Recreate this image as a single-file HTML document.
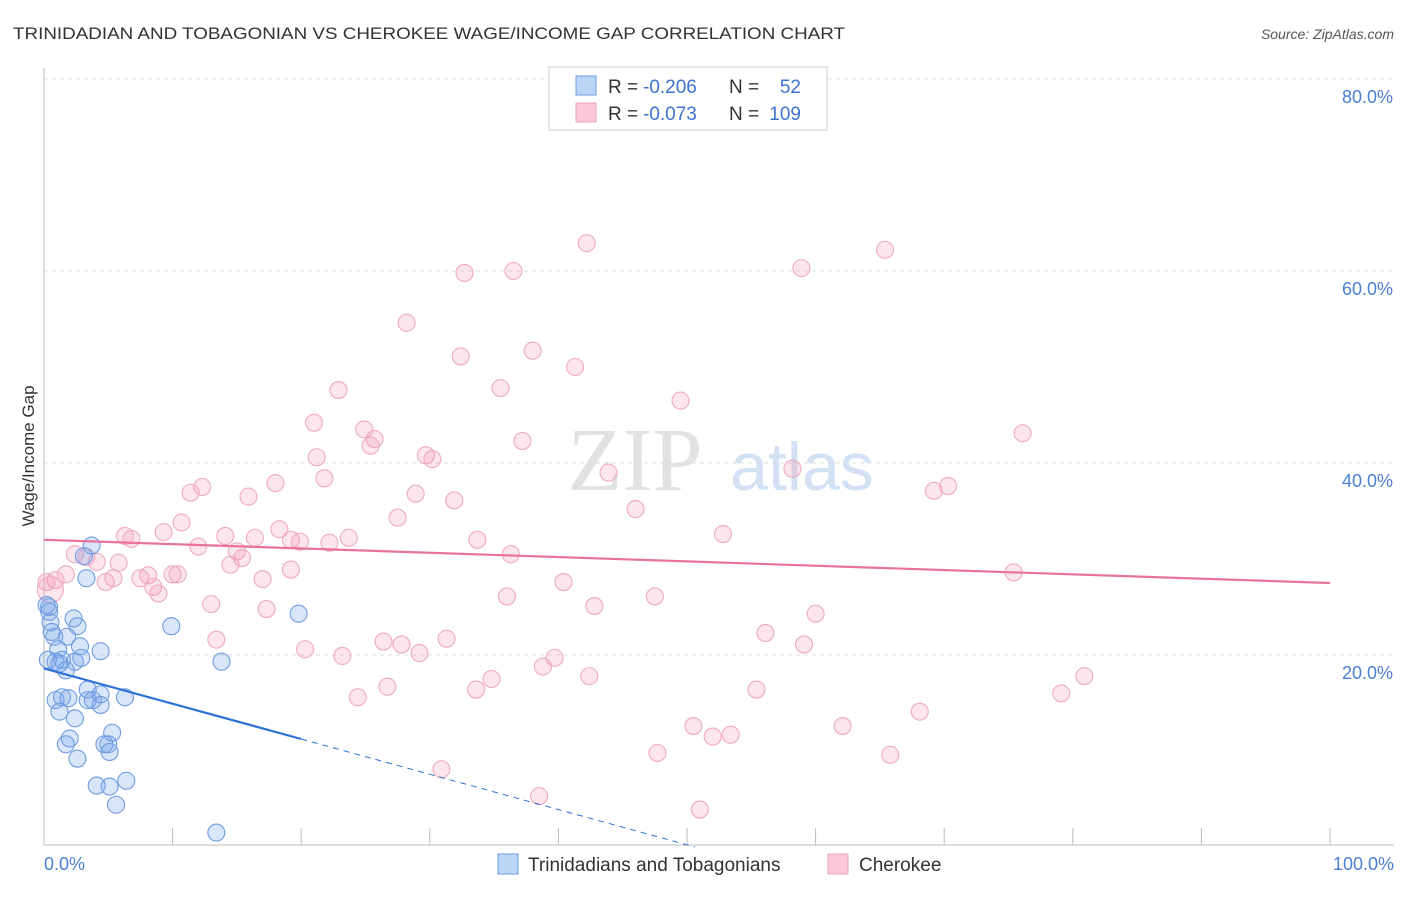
<!DOCTYPE html>
<html><head><meta charset="utf-8"><style>
body{margin:0;background:#fff;font-family:"Liberation Sans",sans-serif}
</style></head><body>
<svg id="chart" width="1406" height="892" xmlns="http://www.w3.org/2000/svg" font-family="Liberation Sans, sans-serif">
<text x="13" y="39" font-size="17" fill="#333" textLength="832" lengthAdjust="spacingAndGlyphs">TRINIDADIAN AND TOBAGONIAN VS CHEROKEE WAGE/INCOME GAP CORRELATION CHART</text>
<text x="1394" y="39" font-size="14" font-style="italic" fill="#555" text-anchor="end">Source: ZipAtlas.com</text>
<g>
<text x="635" y="490" font-size="90" fill="#e2e2e2" text-anchor="middle" font-family="Liberation Serif, serif">ZIP</text>
<text x="802" y="490" font-size="68" fill="#d3e1f5" text-anchor="middle">atlas</text>
</g>
<g id="grid"></g>
<line x1="44" y1="68" x2="44" y2="845" stroke="#bbb"/>
<line x1="44" y1="845" x2="1394" y2="845" stroke="#bbb"/>
<g id="ticks"></g>
<text transform="translate(34,456) rotate(-90)" font-size="17" fill="#333" text-anchor="middle">Wage/Income Gap</text>
<text x="44" y="870" font-size="18" fill="#4a7fd4">0.0%</text>
<text x="1394" y="870" font-size="18" fill="#4a7fd4" text-anchor="end">100.0%</text>
<g id="pink"></g><g id="blue"></g><g id="lines"></g>
<g font-size="19">
<rect x="549" y="67" width="278" height="63" fill="#fff" stroke="#ccc"/>
<rect x="576" y="76" width="20" height="19" fill="#bcd4f6" stroke="#6a9be0"/>
<rect x="576" y="103" width="20" height="19" fill="#fac8d6" stroke="#eca0b8"/>
<text x="608" y="93" fill="#333">R =</text><text x="643" y="93" fill="#3b73d1">-0.206</text>
<text x="729" y="93" fill="#333">N =</text><text x="801" y="93" fill="#3b73d1" text-anchor="end">52</text>
<text x="608" y="120" fill="#333">R =</text><text x="643" y="120" fill="#3b73d1">-0.073</text>
<text x="729" y="120" fill="#333">N =</text><text x="801" y="120" fill="#3b73d1" text-anchor="end">109</text>
</g>
<g>
<rect x="498" y="854" width="20" height="20" fill="#bcd4f6" stroke="#6a9be0"/>
<text x="528" y="871" font-size="19" fill="#333">Trinidadians and Tobagonians</text>
<rect x="828" y="854" width="20" height="20" fill="#fac8d6" stroke="#eca0b8"/>
<text x="859" y="871" font-size="19" fill="#333">Cherokee</text>
</g>
</svg>
<script>
const yTicks=[20,40,60,80];
const xTicks=[0,10,20,30,40,50,60,70,80,90,100];
const blueX=[3.7,3.1,3.3,0.4,0.4,0.5,0.6,0.8,2.3,2.6,1.8,2.8,1.1,4.4,0.9,1.4,2.4,2.9,1.7,9.9,19.8,13.8,0.9,1.4,3.4,4.4,6.3,3.4,4.4,1.2,2.4,1.9,5.3,5.0,1.7,2.0,4.7,5.1,2.6,4.1,5.1,6.4,5.6,13.4,0.2,0.3,1.2,3.8];
const blueY=[31.4,30.3,28.0,25.0,24.5,23.4,22.4,21.9,23.8,23.0,21.9,20.9,20.6,20.4,19.3,19.5,19.3,19.7,18.4,23.0,24.3,19.3,15.3,15.6,16.4,15.9,15.6,15.3,14.8,14.1,13.4,15.5,11.9,10.7,10.7,11.3,10.7,9.9,9.2,6.4,6.3,6.9,4.4,1.5,25.2,19.5,19.1,15.3];
const pinkX=[42.2,65.4,32.7,36.5,58.9,28.2,32.4,38.0,41.3,35.5,22.9,49.5,21.0,24.9,25.7,25.4,37.2,76.1,21.2,29.7,30.2,58.2,43.9,21.8,18.0,12.3,11.4,15.9,28.9,31.9,70.3,69.2,46.0,27.5,10.7,9.3,18.3,6.3,6.8,14.1,16.4,19.2,19.9,23.7,22.2,33.7,52.8,12.0,15.0,36.3,2.4,3.3,4.1,5.8,14.5,15.4,19.2,1.7,0.9,0.2,8.1,10.0,10.4,5.4,7.5,4.8,17.0,40.4,75.4,8.5,8.9,36.0,47.5,42.8,13.0,17.3,60.0,56.1,13.4,26.4,27.8,31.3,59.1,20.3,29.2,23.2,39.7,38.8,42.4,34.8,80.9,26.7,33.6,55.4,24.4,79.1,68.1,50.5,62.1,53.4,52.0,47.7,65.8,30.9,38.5,51.0,0.5];
const pinkY=[62.9,62.2,59.8,60.0,60.3,54.6,51.1,51.7,50.0,47.8,47.6,46.5,44.2,43.5,42.5,41.8,42.3,43.1,40.6,40.8,40.4,39.4,39.0,38.4,37.9,37.5,36.9,36.5,36.8,36.1,37.6,37.1,35.2,34.3,33.8,32.8,33.1,32.4,32.1,32.4,32.2,32.0,31.8,32.2,31.7,32.0,32.6,31.3,30.8,30.5,30.5,30.2,29.7,29.6,29.4,30.1,28.9,28.4,27.8,27.6,28.3,28.4,28.4,28.0,28.0,27.6,27.9,27.6,28.6,27.1,26.4,26.1,26.1,25.1,25.3,24.8,24.3,22.3,21.6,21.4,21.1,21.7,21.1,20.6,20.2,19.9,19.7,18.8,17.8,17.5,17.8,16.7,16.4,16.4,15.6,16.0,14.1,12.6,12.6,11.7,11.5,9.8,9.6,8.1,5.3,3.9,26.8];
const blueTrend=[18.6,11.25];   // y at x=0 and x=20
const pinkTrend=[32.0,27.5];    // y at x=0 and x=100
const NS="http://www.w3.org/2000/svg";
const sx=v=>44+v*12.86, sy=v=>847-v*9.6;
function mk(tag,parent,attrs){const e=document.createElementNS(NS,tag);for(const k in attrs)e.setAttribute(k,attrs[k]);parent.appendChild(e);return e;}
const grid=document.getElementById('grid');
yTicks.forEach(t=>{
 const l=mk('line',grid,{x1:44,x2:1394,y1:sy(t),y2:sy(t),stroke:'#ddd','stroke-dasharray':'4,4'});
 
 
 const tx=mk('text',grid,{x:1393,y:sy(t)+24,'font-size':18,fill:'#4a7fd4','text-anchor':'end'});
 tx.textContent=t.toFixed(1)+'%';
 
 
});
const ticks=document.getElementById('ticks');
xTicks.forEach(t=>{
 const l=mk('line',ticks,{x1:sx(t),x2:sx(t),y1:828,y2:845,stroke:'#bbb'});
 
 
});
function pts(g,X,Y,fill,stroke,name){
 X.forEach((x,i)=>{
  const c=mk('circle',g,{cx:sx(x),cy:sy(Y[i]),r:(i===X.length-1&&name==='cherokee-point')?13:8.5,fill:fill,stroke:stroke,'stroke-width':1.1});
  
  
 });
}
pts(document.getElementById('pink'),pinkX,pinkY,'rgba(244,150,180,0.25)','#eeaac0','cherokee-point');
pts(document.getElementById('blue'),blueX,blueY,'rgba(120,165,235,0.28)','#6f9de0','trinidadian-point');
const lines=document.getElementById('lines');
const pl=mk('line',lines,{x1:sx(0),y1:sy(pinkTrend[0]),x2:sx(100),y2:sy(pinkTrend[1]),stroke:'#e8729a','stroke-width':2.2});


const slope=(blueTrend[1]-blueTrend[0])/20;
const bl=mk('line',lines,{x1:sx(0),y1:sy(blueTrend[0]),x2:sx(20),y2:sy(blueTrend[1]),stroke:'#2f72d6','stroke-width':2.2});


const xz=-blueTrend[0]/slope;
const bd=mk('line',lines,{x1:sx(20),y1:sy(blueTrend[1]),x2:sx(xz),y2:sy(0),stroke:'#2f72d6','stroke-width':1,'stroke-dasharray':'6,5'});


</script>
</body></html>
